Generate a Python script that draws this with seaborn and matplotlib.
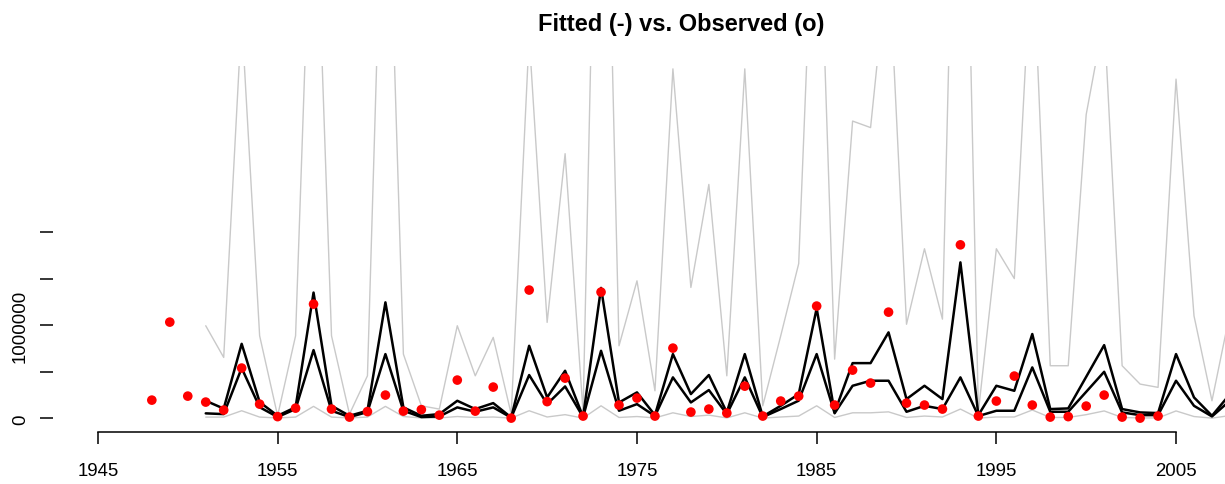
import numpy as np
import pandas as pd
import matplotlib
matplotlib.use("Agg")
import matplotlib.pyplot as plt
import seaborn as sns

# ---- data ----
obs_years = list(range(1948, 2005))
observed = [196e3, 1033e3, 239e3, 175e3, 89e3, 540e3, 153e3, 19e3, 110e3, 1226e3,
            100e3, 14e3, 73e3, 250e3, 78e3, 94e3, 35e3, 411e3, 78e3, 336e3,
            3e3, 1377e3, 180e3, 432e3, 25e3, 1355e3, 143e3, 218e3, 25e3, 754e3,
            68e3, 100e3, 57e3, 346e3, 25e3, 186e3, 239e3, 1205e3, 143e3, 518e3,
            379e3, 1140e3, 164e3, 143e3, 100e3, 1862e3, 25e3, 186e3, 454e3, 143e3,
            14e3, 19e3, 132e3, 250e3, 14e3, 3e3, 25e3]

fit_years = list(range(1951, 2009))
fit_upper = [189e3, 105e3, 800e3, 175e3, 28e3, 120e3, 1350e3, 135e3, 28e3, 82e3,
             1245e3, 118e3, 28e3, 46e3, 189e3, 100e3, 164e3, 10e3, 779e3, 225e3,
             511e3, 17e3, 1400e3, 171e3, 279e3, 35e3, 690e3, 261e3, 465e3, 64e3,
             690e3, 21e3, 135e3, 260e3, 1180e3, 64e3, 593e3, 593e3, 923e3, 207e3,
             350e3, 207e3, 1674e3, 35e3, 350e3, 296e3, 905e3, 100e3, 107e3, 446e3,
             786e3, 100e3, 64e3, 57e3, 690e3, 225e3, 28e3, 260e3]
fit_lower = [54e3, 46e3, 540e3, 120e3, 15e3, 100e3, 733e3, 82e3, 14e3, 68e3,
             690e3, 82e3, 14e3, 21e3, 118e3, 71e3, 118e3, 8e3, 465e3, 153e3,
             343e3, 14e3, 725e3, 82e3, 153e3, 25e3, 440e3, 171e3, 304e3, 46e3,
             440e3, 14e3, 100e3, 190e3, 690e3, 55e3, 350e3, 404e3, 404e3, 71e3,
             135e3, 100e3, 440e3, 25e3, 82e3, 82e3, 547e3, 71e3, 71e3, 285e3,
             500e3, 64e3, 35e3, 35e3, 404e3, 135e3, 21e3, 190e3]
band_upper = [994e3, 654e3, 4300e3, 886e3, 28e3, 886e3, 6500e3, 886e3, 46e3, 457e3,
              7000e3, 690e3, 135e3, 100e3, 994e3, 457e3, 869e3, 46e3, 4100e3, 1030e3,
              2840e3, 64e3, 9000e3, 779e3, 1476e3, 296e3, 3750e3, 1405e3, 2510e3, 457e3,
              3750e3, 135e3, 886e3, 1660e3, 6500e3, 636e3, 3190e3, 3120e3, 5000e3, 1010e3,
              1820e3, 1065e3, 9000e3, 70e3, 1820e3, 1500e3, 5200e3, 565e3, 565e3, 3260e3,
              4300e3, 565e3, 368e3, 333e3, 3640e3, 1100e3, 189e3, 1130e3]
band_lower = [14e3, 14e3, 82e3, 14e3, 5e3, 14e3, 129e3, 14e3, 5e3, 14e3,
              129e3, 20e3, 5e3, 5e3, 20e3, 10e3, 15e3, 3e3, 82e3, 15e3,
              40e3, 3e3, 135e3, 10e3, 20e3, 5e3, 60e3, 20e3, 35e3, 5e3,
              60e3, 3e3, 15e3, 25e3, 135e3, 10e3, 60e3, 60e3, 70e3, 10e3,
              25e3, 15e3, 100e3, 3e3, 15e3, 15e3, 90e3, 10e3, 10e3, 40e3,
              80e3, 10e3, 5e3, 5e3, 80e3, 20e3, 3e3, 30e3]

x_ticks = [1945, 1955, 1965, 1975, 1985, 1995, 2005]
y_ticks = [0, 500000, 1000000, 1500000, 2000000]
y_tick_labels = ["0", "", "1000000", "", ""]

# ---- figure ----
sns.set_style("white", {"xtick.bottom": True, "ytick.left": True,
                        "text.color": "black", "xtick.color": "black",
                        "ytick.color": "black", "axes.labelcolor": "black"})
plt.rcParams["font.family"] = ["Liberation Sans", "DejaVu Sans"]

W, H = 1225, 485
fig = plt.figure(figsize=(W / 100, H / 100), dpi=100)
left_px, right_px, top_px, bot_px = 53, 1309, 66.7, 433
ax = fig.add_axes([left_px / W, (H - bot_px) / H, (right_px - left_px) / W, (bot_px - top_px) / H])

fit_df = pd.DataFrame({"year": fit_years, "upper": fit_upper, "lower": fit_lower,
                       "bu": band_upper, "bl": band_lower})
obs_df = pd.DataFrame({"year": obs_years, "obs": observed})

gray = "#c9c9c9"
sns.lineplot(data=fit_df, x="year", y="bu", ax=ax, color=gray, lw=1.0, estimator=None, zorder=1)
sns.lineplot(data=fit_df, x="year", y="bl", ax=ax, color=gray, lw=1.0, estimator=None, zorder=1)
sns.lineplot(data=fit_df, x="year", y="upper", ax=ax, color="black", lw=1.8, estimator=None, zorder=2)
sns.lineplot(data=fit_df, x="year", y="lower", ax=ax, color="black", lw=1.8, estimator=None, zorder=2)
sns.scatterplot(data=obs_df, x="year", y="obs", ax=ax, color="#ff0000", s=48,
                edgecolor="none", linewidth=0, zorder=3)

ax.set_xlim(1942.5, 2012.4)
ax.set_ylim(-146000, 3784000)
ax.set_xlabel("")
ax.set_ylabel("")

for s in ["top", "right", "left"]:
    ax.spines[s].set_visible(False)
ax.spines["bottom"].set_bounds(1945, 2005)
ax.spines["bottom"].set_linewidth(1.1)
ax.spines["bottom"].set_color("black")

ax.set_xticks(x_ticks)
ax.set_xticklabels([str(v) for v in x_ticks], fontsize=13.4, color="black")
ax.set_yticks(y_ticks)
ax.set_yticklabels(y_tick_labels, fontsize=13.4, rotation=90, va="center", color="black")
ax.tick_params(axis="x", direction="out", length=8.6, width=1.1, color="black", pad=13, bottom=True)
ax.tick_params(axis="y", direction="out", length=9.4, width=1.1, color="black", pad=8, left=True)

fig.text(681 / W, 1 - 24 / H, "Fitted (-) vs. Observed (o)", ha="center", va="center",
         fontsize=17, fontweight="bold", color="black")

fig.savefig("out.png", dpi=100)
